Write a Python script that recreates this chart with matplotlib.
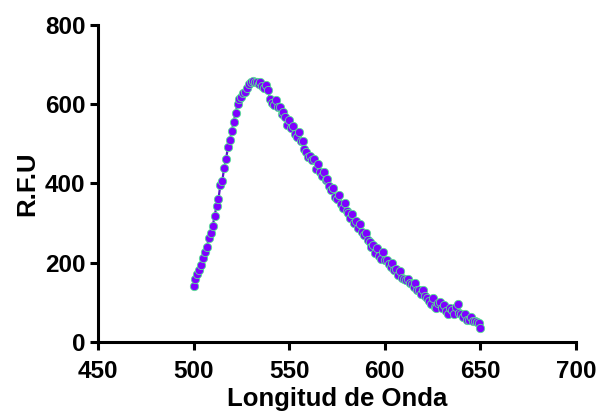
import matplotlib
matplotlib.use("Agg")
import matplotlib.pyplot as plt

plt.rcParams['font.family'] = ['Liberation Sans', 'DejaVu Sans']
plt.rcParams['font.weight'] = 'bold'

# Emission spectrum: wavelength (nm) and relative fluorescence units
wavelength = list(range(500, 651))
rfu = [
    140, 158, 172, 182, 195, 212, 228, 240, 262, 275,
    292, 318, 342, 360, 396, 405, 440, 462, 492, 510,
    532, 556, 578, 600, 612, 618, 628, 632, 642, 650,
    656, 658, 655, 657, 652, 655, 646, 640, 648, 635,
    612, 604, 598, 610, 592, 594, 576, 580, 568, 548,
    560, 540, 545, 524, 518, 530, 508, 506, 486, 480,
    466, 470, 458, 462, 436, 450, 428, 418, 430, 408,
    410, 394, 384, 388, 366, 360, 372, 348, 338, 350,
    330, 326, 314, 322, 300, 304, 288, 298, 278, 270,
    274, 258, 252, 240, 244, 224, 236, 216, 210, 228,
    208, 206, 196, 190, 198, 182, 184, 168, 178, 162,
    158, 156, 160, 148, 146, 138, 150, 132, 130, 120,
    130, 116, 112, 104, 96, 110, 88, 86, 98, 102,
    86, 94, 78, 70, 86, 80, 70, 88, 96, 74,
    70, 62, 70, 56, 55, 64, 54, 52, 50, 48,
    35,
]

x_ticks = [450, 500, 550, 600, 650, 700]
y_ticks = [0, 200, 400, 600, 800]

fig = plt.figure(figsize=(5.97, 4.16), dpi=100)
ax = fig.add_axes([0.164, 0.178, 0.801, 0.762])

ax.plot(wavelength, rfu, color='#5a10d0', linewidth=1.6,
        marker='o', markersize=6, markerfacecolor='#7f00ff',
        markeredgecolor='#55e890', markeredgewidth=0.6, zorder=3)

ax.set_xlim(450, 700)
ax.set_ylim(0, 800)
ax.set_xticks(x_ticks)
ax.set_yticks(y_ticks)

for side in ('top', 'right'):
    ax.spines[side].set_visible(False)
for side in ('left', 'bottom'):
    ax.spines[side].set_linewidth(2.2)
    ax.spines[side].set_color('black')

ax.tick_params(axis='both', direction='out', length=6, width=2.2,
               labelsize=17.5)
ax.tick_params(axis='x', pad=7)
ax.tick_params(axis='y', pad=3)
for lbl in ax.get_xticklabels() + ax.get_yticklabels():
    lbl.set_fontweight('bold')

ax.set_xlabel('Longitud de Onda', fontsize=18.5, fontweight='bold', labelpad=3)
ax.set_ylabel('R.F.U', fontsize=18.5, fontweight='bold', labelpad=4)

fig.savefig('out.png', dpi=100)
